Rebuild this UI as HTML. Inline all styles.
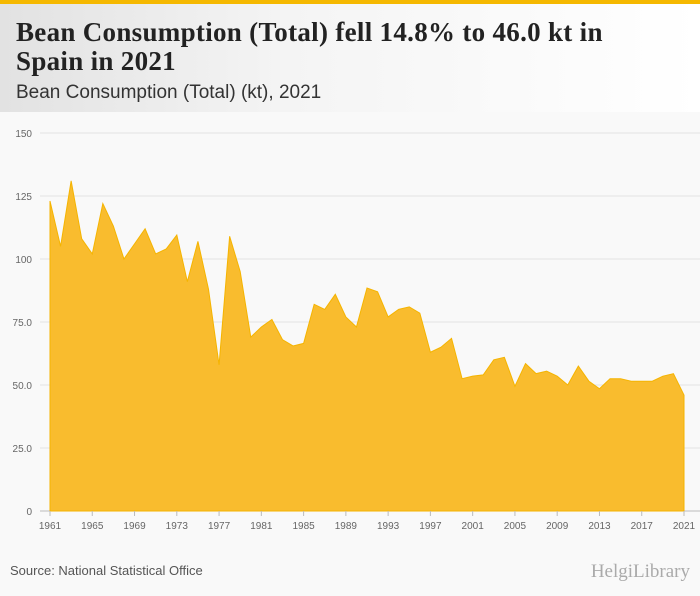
<!DOCTYPE html>
<html><head><meta charset="utf-8"><style>
body{margin:0;width:700px;height:596px;background:#f9f9f9;font-family:"Liberation Sans",sans-serif;overflow:hidden;position:relative}
#topbar{position:absolute;left:0;top:0;width:700px;height:4px;background:#f5b800}
#header{position:absolute;left:0;top:4px;width:700px;height:108px;background:linear-gradient(90deg,#e2e2e2 0%,#f4f4f4 40%,#fff 100%)}
#title{position:absolute;left:16px;top:14px;font-family:"Liberation Serif",serif;font-weight:bold;font-size:27px;line-height:29px;color:#222;width:620px;letter-spacing:0.3px}
#subtitle{position:absolute;left:16px;top:78px;font-size:19px;color:#333}
#source{position:absolute;left:10px;top:563px;font-size:13px;color:#555}
#logo{position:absolute;right:10px;top:561px;font-family:"Liberation Serif",serif;font-size:19px;color:#aaa}
</style></head><body>
<div id="topbar"></div>
<div id="header">
<div id="title">Bean Consumption (Total) fell 14.8% to 46.0 kt in Spain in 2021</div>
<div id="subtitle">Bean Consumption (Total) (kt), 2021</div>
</div>
<svg id="chart" width="700" height="596" style="position:absolute;left:0;top:0"></svg>
<div id="source">Source: National Statistical Office</div>
<div id="logo">HelgiLibrary</div>
<script>
const years=[1961,1962,1963,1964,1965,1966,1967,1968,1969,1970,1971,1972,1973,1974,1975,1976,1977,1978,1979,1980,1981,1982,1983,1984,1985,1986,1987,1988,1989,1990,1991,1992,1993,1994,1995,1996,1997,1998,1999,2000,2001,2002,2003,2004,2005,2006,2007,2008,2009,2010,2011,2012,2013,2014,2015,2016,2017,2018,2019,2020,2021];
const values=[123,105,131,108,102,122,113,100,106,112,102,104,109.5,91,107,88,58,109,95,69,73,76,68,65.5,66.5,82,80,86,77,73,88.5,87,77,80,81,78.5,63,65,68.5,52.5,53.5,54,60,61,49.5,58.5,54.5,55.5,53.5,50,57.5,51.5,48.5,52.5,52.5,51.5,51.5,51.5,53.5,54.5,46];
const yTicks=[0,25,50,75,100,125,150];
const yTickLabels=["0","25.0","50.0","75.0","100","125","150"];
const xTicks=[1961,1965,1969,1973,1977,1981,1985,1989,1993,1997,2001,2005,2009,2013,2017,2021];
const NS="http://www.w3.org/2000/svg",svg=document.getElementById('chart');
const x=v=>50+(v-1961)*(634/60), y=v=>511-v*(378/150);
function mk(t,a){const e=document.createElementNS(NS,t);for(const k in a)e.setAttribute(k,a[k]);svg.appendChild(e);return e;}
yTicks.forEach((t,i)=>{
 const g=mk('line',{x1:40,x2:700,y1:y(t),y2:y(t),stroke:t===0?'#bbb':'#e2e2e2','stroke-width':1});
 
 
 const l=mk('text',{x:32,y:y(t)+4,'text-anchor':'end','font-size':10,fill:'#666','font-family':'Liberation Sans,sans-serif'});
 l.textContent=yTickLabels[i];
 
 
});
let d='M'+x(years[0])+','+y(0);
years.forEach((yr,i)=>{d+=' L'+x(yr)+','+y(values[i]);});
d+=' L'+x(years[years.length-1])+','+y(0)+' Z';
const area=mk('path',{d:d,fill:'#f9bc2e',stroke:'#f5b400','stroke-width':1});


xTicks.forEach(t=>{
 const tk=mk('line',{x1:x(t),x2:x(t),y1:511,y2:516,stroke:'#bbb'});
 
 
 const l=mk('text',{x:x(t),y:529,'text-anchor':'middle','font-size':10,fill:'#666','font-family':'Liberation Sans,sans-serif'});
 l.textContent=t;
 
 
});
</script>
</body></html>
